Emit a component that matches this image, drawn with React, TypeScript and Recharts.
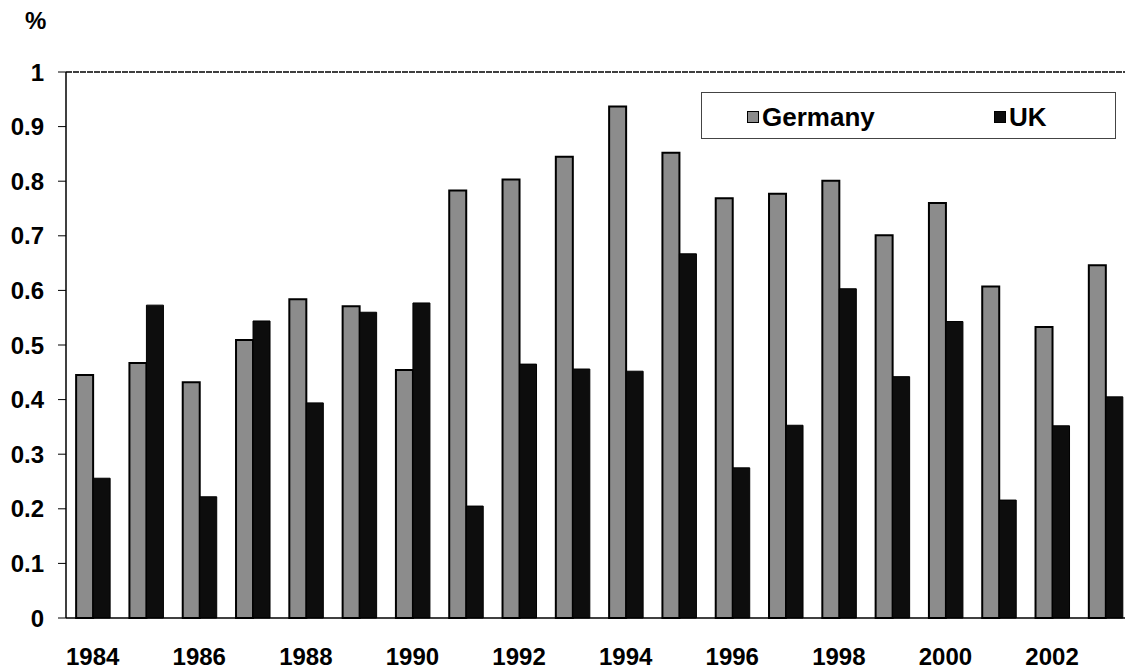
import { Bar, BarChart, ReferenceLine, XAxis, YAxis } from "recharts"

const years = [
  "1984", "1985", "1986", "1987", "1988", "1989", "1990", "1991", "1992", "1993",
  "1994", "1995", "1996", "1997", "1998", "1999", "2000", "2001", "2002", "2003",
]

const germany = [
  0.445, 0.467, 0.432, 0.509, 0.584, 0.571, 0.454, 0.783, 0.803, 0.845,
  0.937, 0.852, 0.769, 0.777, 0.801, 0.701, 0.760, 0.607, 0.533, 0.646,
]

const uk = [
  0.256, 0.573, 0.222, 0.544, 0.394, 0.560, 0.577, 0.205, 0.465, 0.456,
  0.452, 0.667, 0.275, 0.353, 0.603, 0.442, 0.543, 0.216, 0.352, 0.405,
]

const yTicks = [0, 0.1, 0.2, 0.3, 0.4, 0.5, 0.6, 0.7, 0.8, 0.9, 1]

const GERMANY_FILL = "#8c8c8c"
const UK_FILL = "#0d0d0d"
const FONT = "'Liberation Sans', Arial, sans-serif"

const data = years.map((year, i) => ({ year, germany: germany[i], uk: uk[i] }))

const tickStyle = { fontFamily: FONT, fontSize: 24, fontWeight: 700, fill: "#000" }

function ChartLegend() {
  const item = (color: string, label: string, left: number) => (
    <div style={{ position: "absolute", left, top: 11, display: "flex", alignItems: "center" }}>
      <span style={{ width: 10, height: 10, background: color, border: "1px solid #000", marginRight: 3 }} />
      <span style={{ fontFamily: FONT, fontSize: 26, fontWeight: 700, lineHeight: "26px" }}>{label}</span>
    </div>
  )
  return (
    <div
      style={{
        position: "absolute",
        left: 701,
        top: 92,
        width: 415,
        height: 47,
        border: "1px solid #444",
        background: "#fff",
        boxSizing: "border-box",
      }}
    >
      {item(GERMANY_FILL, "Germany", 45)}
      {item(UK_FILL, "UK", 292)}
    </div>
  )
}

export default function App() {
  return (
    <div style={{ position: "absolute", left: 0, top: 0, width: 1125, height: 670, overflow: "hidden", background: "#fff" }}>
      <div style={{ position: "absolute", left: 25, top: 7, fontFamily: FONT, fontSize: 24, fontWeight: 700 }}>%</div>
      <BarChart
        width={1140}
        height={670}
        data={data}
        margin={{ top: 72, right: 8, left: 8, bottom: 0 }}
        barCategoryGap="19%"
        barGap={0}
      >
        <XAxis
          dataKey="year"
          interval={1}
          tickSize={0}
          tickLine={false}
          tickMargin={30}
          height={52}
          axisLine={{ stroke: "#000", strokeWidth: 1.5 }}
          tick={tickStyle}
        />
        <YAxis
          domain={[0, 1]}
          ticks={yTicks}
          interval={0}
          width={58}
          tickSize={8}
          tickMargin={14}
          tickFormatter={(v: number) => String(Math.round(v * 10) / 10)}
          axisLine={{ stroke: "#000", strokeWidth: 1.5 }}
          tickLine={{ stroke: "#000" }}
          tick={tickStyle}
        />
        <ReferenceLine y={1} stroke="#000" strokeWidth={1.5} strokeDasharray="6 1" />
        <Bar dataKey="germany" fill={GERMANY_FILL} stroke="#000" strokeWidth={2} isAnimationActive={false} />
        <Bar dataKey="uk" fill={UK_FILL} stroke="#000" strokeWidth={1} isAnimationActive={false} />
      </BarChart>
      <ChartLegend />
    </div>
  )
}
